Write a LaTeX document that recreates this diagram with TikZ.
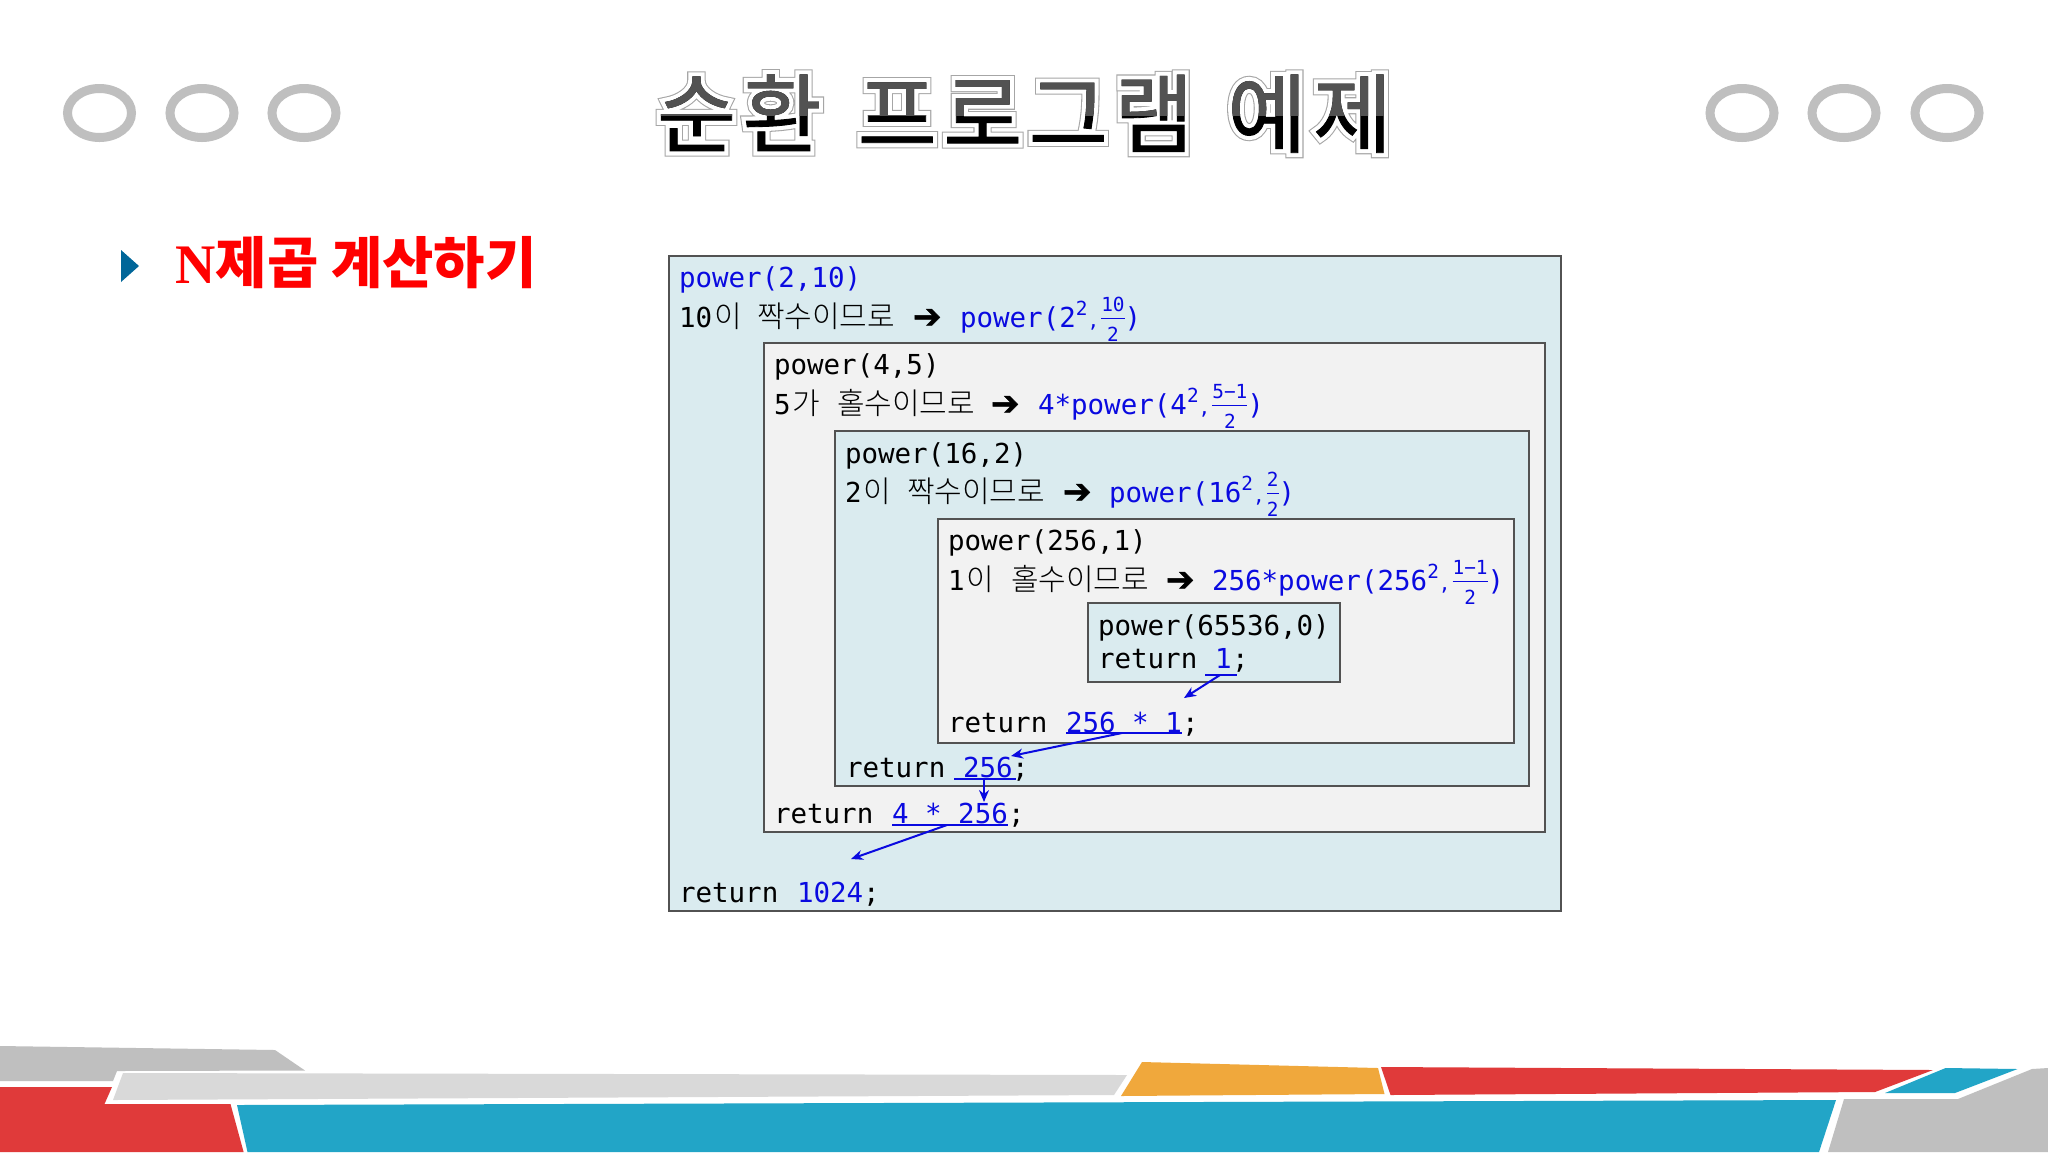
\documentclass[tikz,border=0pt]{standalone}
\usepackage{fontspec}
\usetikzlibrary{arrows.meta}
\newfontfamily\mono{DejaVu Sans Mono}
\newfontfamily\kr{Noto Sans CJK KR}
\newfontfamily\krl{Noto Sans CJK KR}[UprightFont=* Light]
\newfontfamily\djv{DejaVu Sans}[FakeBold=1.5]
\newfontfamily\ttlcore{Noto Sans CJK KR}[LetterSpace=7.5,FakeBold=1]
\newfontfamily\ttlwhite{Noto Sans CJK KR}[LetterSpace=7.5,FakeBold=10.5]
\newfontfamily\ttlhalo{Noto Sans CJK KR}[LetterSpace=7.5,FakeBold=13]
\newfontfamily\serifb{Liberation Serif}
\definecolor{cblue}{HTML}{0A0AE0}
\definecolor{boxblue}{HTML}{DAEBEF}
\definecolor{boxgray}{HTML}{F2F2F2}
\definecolor{ringgray}{HTML}{BFBFBF}
\definecolor{fgray}{HTML}{BFBFBF}
\definecolor{flight}{HTML}{D9D9D9}
\definecolor{fred}{HTML}{E03A3A}
\definecolor{fteal}{HTML}{22A5C7}
\definecolor{forange}{HTML}{F0A83C}
\definecolor{bul}{HTML}{006699}
\newcommand\sm{\mono\fontsize{9.7}{10}\selectfont}
\newcommand\sups[1]{\raise 6pt\hbox{\sm #1}}
\newcommand\smc{\hbox{\sm ,}}
\newcommand\fr[2]{{\setbox0=\hbox{\sm #1}\setbox1=\hbox{\sm #2}%
 \dimen0=\wd0 \ifdim\wd1>\dimen0 \dimen0=\wd1 \fi
 \kern1pt\rlap{\hbox to \dimen0{\hss\raise 7.7pt\copy0\hss}}%
 \rlap{\hbox to \dimen0{\hss\lower 7.3pt\copy1\hss}}%
 \rlap{\raise 3.9pt\hbox{\vrule width \dimen0 height .75pt depth 0pt}}\kern\dimen0}}
\newcommand\ttltext{\fontsize{43}{46}\selectfont 순환\hspace{18pt}프로그램\hspace{17pt}예제}
\tikzset{
 txt/.style={anchor=base west,inner sep=0pt,outer sep=0pt,font=\mono\fontsize{13.75}{16}\selectfont},
 btxt/.style={txt,text=cblue},
 ktxt/.style={anchor=base west,inner sep=0pt,outer sep=0pt,font=\krl\fontsize{15}{16}\selectfont},
 arr/.style={anchor=base west,inner sep=0pt,outer sep=0pt,font=\djv\fontsize{17}{18}\selectfont},
 bx/.style={draw=black!68,line width=.65pt,anchor=north west,inner sep=0pt,outer sep=0pt},
 ring/.style={draw=ringgray,line width=4.5pt},
 uline/.style={draw=cblue,line width=1pt},
 retarrow/.style={draw=cblue,line width=1pt,-{Stealth[length=6pt,width=5pt]}},
 ttl/.style={anchor=base west,inner sep=0pt,outer sep=0pt},
}
\begin{document}
\begin{tikzpicture}[x=0.5pt,y=-0.5pt]
\useasboundingbox[fill=white] (0,0) rectangle (2048,1152);
% rings
\foreach \cx in {99.5,202,304,1742,1844,1947}
  \draw[ring] (\cx,113) ellipse [x radius=16pt,y radius=12.25pt];
% title
\node[ttl,text=black!35] (titlehalo) at (657,146) {\ttlhalo\ttltext};
\node[ttl,text=white] (titlewhite) at (657,146) {\ttlwhite\ttltext};
\node[ttl,text=black] (titlecore) at (657,146) {\ttlcore\ttltext};
\begin{scope}
\clip (600,50) rectangle (1450,115);
\node[ttl,text=black!68] (titletop) at (657,146) {\ttlcore\ttltext};
\end{scope}
% bullet + heading
\fill[bul] (121,250) -- (139,266) -- (121,282) -- cycle;
\node[anchor=base west,inner sep=0pt,text=red] (heading) at (175,283)
  {\fontsize{27.9}{30}\selectfont{\serifb\bfseries N}{\kr\bfseries 제곱 계산하기}};
% boxes
\node[bx,fill=boxblue,minimum width=446pt,minimum height=327.5pt] (b1) at (669,256) {};
\node[bx,fill=boxgray,minimum width=390.5pt,minimum height=244.5pt] (b2) at (764,343) {};
\node[bx,fill=boxblue,minimum width=347pt,minimum height=177.5pt] (b3) at (835,431) {};
\node[bx,fill=boxgray,minimum width=288pt,minimum height=112pt] (b4) at (938,519) {};
\node[bx,fill=boxblue,minimum width=126pt,minimum height=39.5pt] (b5) at (1088,603) {};
% level 1
\node[btxt] (t1a) at (679,287) {power(2,10)};
\node[txt] (t1b) at (679,327) {10};
\node[ktxt] (t1c) at (714,327) {이};
\node[ktxt] (t1d) at (757,327) {짝수이므로};
\node[arr] (t1e) at (913,328) {\char"2794};
\node[btxt] (t1f) at (960,327) {power(2\sups{2}\smc\fr{10}{2})};
% level 2
\node[txt] (t2a) at (774,374) {power(4,5)};
\node[txt] (t2b) at (774,414) {5};
\node[ktxt] (t2c) at (792,414) {가};
\node[ktxt] (t2d) at (837,414) {홀수이므로};
\node[arr] (t2e) at (991,415) {\char"2794};
\node[btxt] (t2f) at (1038,414) {4*power(4\sups{2}\smc\fr{5−1}{2})};
% level 3
\node[txt] (t3a) at (845,463) {power(16,2)};
\node[txt] (t3b) at (845,502) {2};
\node[ktxt] (t3c) at (863,502) {이};
\node[ktxt] (t3d) at (907,502) {짝수이므로};
\node[arr] (t3e) at (1063,503) {\char"2794};
\node[btxt] (t3f) at (1109,502) {power(16\sups{2}\smc\fr{2}{2})};
% level 4
\node[txt] (t4a) at (948,550) {power(256,1)};
\node[txt] (t4b) at (948,590) {1};
\node[ktxt] (t4c) at (966,590) {이};
\node[ktxt] (t4d) at (1011,590) {홀수이므로};
\node[arr] (t4e) at (1166,591) {\char"2794};
\node[btxt] (t4f) at (1212,590) {256*power(256\sups{2}\smc\fr{1−1}{2})};
% level 5
\node[txt] (t5a) at (1098,635) {power(65536,0)};
\node[txt] (t5b) at (1098,668) {return};
\node[btxt] (t5c) at (1215,668) {1};
\node[txt] (t5d) at (1232,668) {;};
% returns
\node[txt] (r4a) at (948,732) {return};
\node[btxt] (r4b) at (1066,732) {256 * 1};
\node[txt] (r4c) at (1182,732) {;};
\node[txt] (r3a) at (846,777) {return};
\node[btxt] (r3b) at (963,777) {256};
\node[txt] (r3c) at (1012,777) {;};
\node[txt] (r2a) at (774,823) {return};
\node[btxt] (r2b) at (892,823) {4 * 256};
\node[txt] (r2c) at (1008,823) {;};
\node[txt] (r1a) at (679,902) {return};
\node[btxt] (r1b) at (797,902) {1024};
\node[txt] (r1c) at (863,902) {;};
% underlines and return arrows
\coordinate (u5l) at (1205,675); \coordinate (u5r) at (1237,675); \coordinate (u5m) at (1220,675);
\coordinate (a5) at (1184,698);
\coordinate (u4l) at (1066,733); \coordinate (u4r) at (1182,733); \coordinate (u4m) at (1122,733);
\coordinate (a4) at (1011,756);
\coordinate (u3l) at (954,779); \coordinate (u3r) at (1016,779); \coordinate (u3m) at (984,779);
\coordinate (a3) at (984,802);
\coordinate (u2l) at (892,825); \coordinate (u2r) at (1008,825); \coordinate (u2m) at (947,825);
\coordinate (a2) at (851,859);
\draw[uline] (u5l) -- (u5r); \draw[retarrow] (u5m) -- (a5);
\draw[uline] (u4l) -- (u4r); \draw[retarrow] (u4m) -- (a4);
\draw[uline] (u3l) -- (u3r); \draw[retarrow,line width=.75pt] (u3m) -- (a3);
\draw[uline] (u2l) -- (u2r); \draw[retarrow] (u2m) -- (a2);
% footer
\fill[fgray] (0,1046) -- (275,1050) -- (305,1070.5) -- (117,1071) -- (113,1081) -- (0,1081) -- cycle;
\fill[fred] (0,1087) -- (112,1087) -- (104.5,1104) -- (230.5,1104) -- (243.6,1152) -- (0,1152) -- cycle;
\fill[flight] (123,1073) -- (1127,1075) -- (1114,1095) -- (113,1100) -- cycle;
\fill[fteal] (237,1105) -- (1836,1100) -- (1819,1152) -- (247.5,1152) -- cycle;
\fill[forange] (1142,1062) -- (1378,1068) -- (1384.5,1094) -- (1121,1096) -- cycle;
\fill[fred] (1381,1067) -- (1933,1070) -- (1875,1092) -- (1390.5,1095) -- cycle;
\fill[fteal] (1945.6,1068) -- (2017.5,1069) -- (1955,1093) -- (1885,1093) -- cycle;
\fill[fgray] (2032,1069) -- (2048,1068) -- (2048,1152) -- (1828,1152) -- (1844,1099) -- (1958,1099) -- cycle;
\end{tikzpicture}
\end{document}
